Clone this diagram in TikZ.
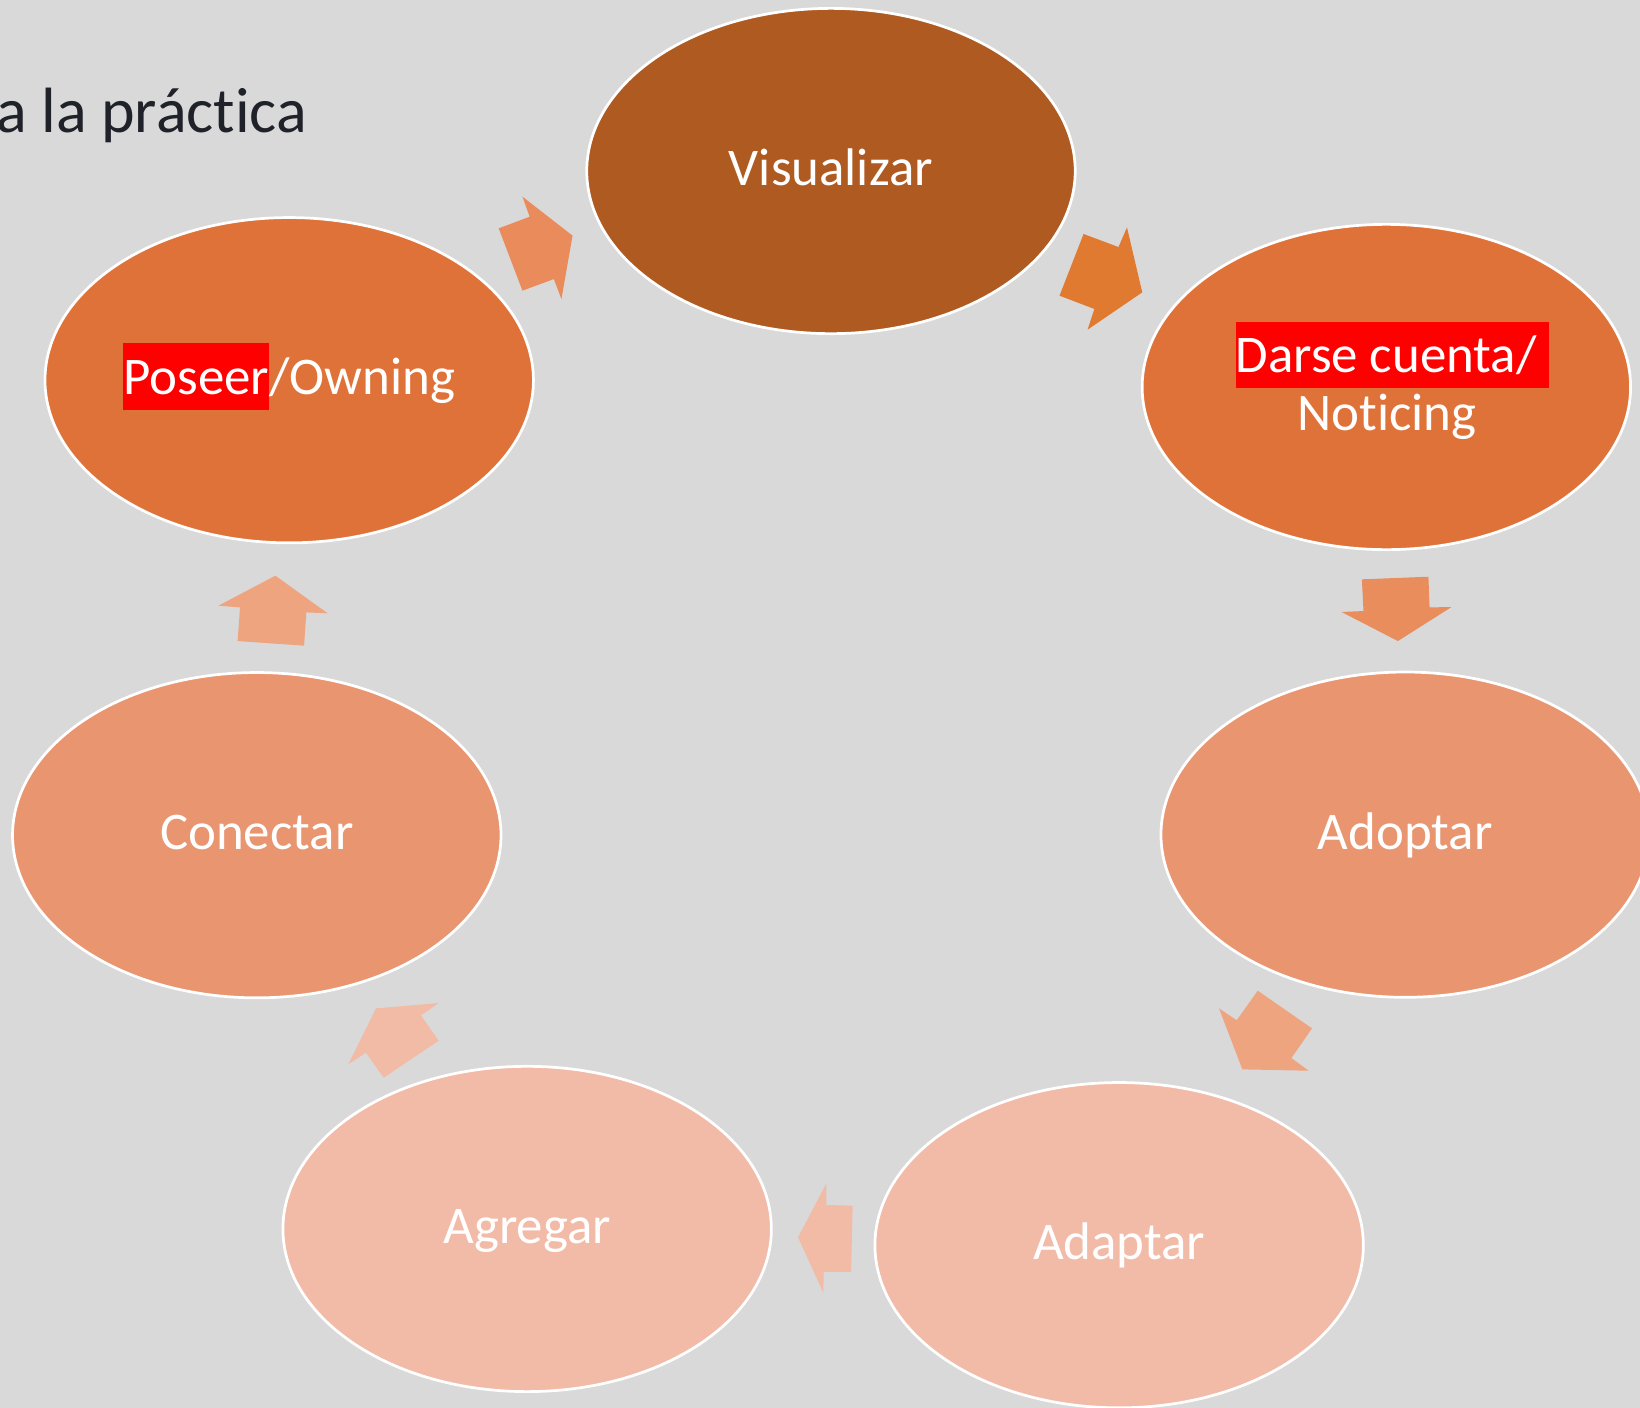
\documentclass[tikz,border=0pt]{standalone}
\usepackage{fontspec}
\setmainfont{Carlito}[Ligatures=NoCommon]
\usetikzlibrary{shapes.geometric}
\definecolor{bg}{HTML}{D9D9D9}
\definecolor{titlec}{HTML}{20222A}
\definecolor{cvis}{HTML}{AE5A21}
\definecolor{cmid}{HTML}{DF7239}
\definecolor{clight}{HTML}{E89570}
\definecolor{cpale}{HTML}{F2BBA8}
\definecolor{aone}{HTML}{E98B5B}
\definecolor{atwo}{HTML}{E07A31}
\definecolor{athree}{HTML}{E88D5B}
\definecolor{afour}{HTML}{EEA47F}
\definecolor{afive}{HTML}{F2BBA6}
\definecolor{hlred}{HTML}{FF0000}
\newcommand\redmark[1]{{\setlength{\fboxsep}{0pt}\colorbox{hlred}{\rule[-0.29em]{0pt}{1.255em}#1}}}
\begin{document}
\begin{tikzpicture}[x=0.5pt,y=-0.5pt,
  ell/.style={ellipse, draw=white, line width=1.3pt, minimum width=233.5pt, minimum height=155.5pt, inner sep=0pt, outer sep=0pt},
  lbl/.style={text=white, font=\fontsize{25.3}{28}\selectfont, inner sep=0pt, outer sep=0pt, anchor=base},
  blockarrow/.style={draw=none}]
\useasboundingbox (0,0) rectangle (1568,1346);
\clip (0,0) rectangle (1568,1346);
\fill[bg] (0,0) rectangle (1568,1346);

% title fragment
\node[anchor=base east, inner sep=0pt, text=titlec, font=\fontsize{30.6}{33}\selectfont] (title) at (294,127) {a la práctica};

% ellipses
\node[ell, fill=cvis]   (vis)  at (794.5,163.5) {};
\node[ell, fill=cmid]   (pos)  at (276.5,363.5) {};
\node[ell, fill=cmid]   (dar)  at (1325.5,370) {};
\node[ell, fill=clight] (adop) at (1343.5,798) {};
\node[ell, fill=clight] (con)  at (245.5,798.5) {};
\node[ell, fill=cpale]  (agr)  at (504,1175) {};
\node[ell, fill=cpale]  (adap) at (1070,1190.5) {};

% labels
\node[lbl] (visT)  at ([yshift=-6.75pt]vis.center) {Visualizar};
\node[lbl] (posT)  at ([yshift=-6.75pt]pos.center) {\redmark{Poseer}/Owning};
\node[lbl] (darT1) at (1331,356.3) {\redmark{Darse cuenta/\ }};
\node[lbl] (darT2) at (1326,411.8) {Noticing};
\node[lbl] (adopT) at ([yshift=-7pt]adop.center) {Adoptar};
\node[lbl] (conT)  at ([yshift=-7pt]con.center) {Conectar};
\node[lbl] (agrT)  at ([yshift=-7pt]agr.center) {Agregar};
\node[lbl] (adapT) at ([yshift=-7pt]adap.center) {Adaptar};

% block arrows
\fill[aone]   (476.8,218.3) -- (506.4,207.2) -- (499.5,188.0) -- (547.4,225.3) -- (536.8,285.9) -- (529.5,266.8) -- (499.5,277.9) -- cycle;
\fill[atwo]   (1036.0,223.7) -- (1069.4,236.2) -- (1077.5,217.4) -- (1092.1,279.5) -- (1039.8,315.2) -- (1046.3,295.4) -- (1013.0,282.7) -- cycle;
\fill[athree] (1302.1,553.9) -- (1365.7,551.4) -- (1366.8,580.7) -- (1387.7,580.4) -- (1336.5,612.9) -- (1282.7,585.1) -- (1303.6,584.2) -- cycle;
\fill[afour]  (1165.5,964.1) -- (1182.4,975.5) -- (1202.5,947.2) -- (1254.4,983.2) -- (1234.7,1011.6) -- (1251.2,1023.7) -- (1187.8,1022.4) -- cycle;
\fill[afive]  (815.2,1152.7) -- (790.1,1152.1) -- (790.1,1131.4) -- (763.0,1183.0) -- (787.2,1236.0) -- (787.5,1215.9) -- (813.7,1215.9) -- cycle;
\fill[afive]  (366.8,1030.4) -- (349.9,1006.5) -- (333.0,1017.6) -- (359.5,964.1) -- (419.4,959.0) -- (402.5,970.8) -- (419.4,995.0) -- cycle;
\fill[afour]  (227.2,612.9) -- (229.5,580.7) -- (208.8,579.1) -- (263.3,550.4) -- (313.3,586.4) -- (292.9,585.5) -- (290.7,617.3) -- cycle;
\end{tikzpicture}
\end{document}
